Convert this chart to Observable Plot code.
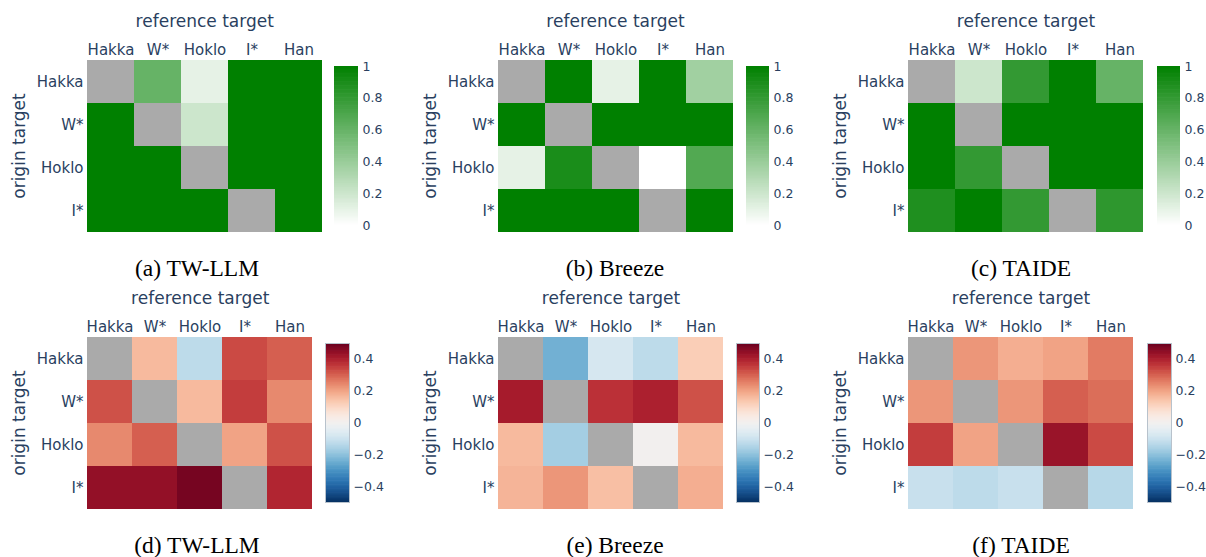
<!DOCTYPE html>
<html>
<head>
<meta charset="utf-8">
<script src="https://cdn.jsdelivr.net/npm/d3@7"></script>
<script src="https://cdn.jsdelivr.net/npm/@observablehq/plot@0.6"></script>
<style>
  html, body { margin: 0; padding: 0; background: #fff; }
  #root { position: relative; width: 1206px; height: 557px; overflow: hidden; }
  #root svg { position: absolute; overflow: visible; background: transparent; }
  .cap { position: absolute; font-family: "Liberation Serif", "Times New Roman", serif; font-size: 23.5px; color: #000; white-space: nowrap; transform: translate(-50%, -50%); }
  svg.hm [aria-label$="axis label"], svg.hm [aria-label$="axis label"] text { font-size: 17px !important; }
  svg.hm [aria-label$="tick label"], svg.hm [aria-label$="tick label"] text { font-size: 15px !important; }
  svg.cb [aria-label$="tick label"], svg.cb [aria-label$="tick label"] text { font-size: 12.5px !important; }
</style>
</head>
<body>
<div id="root"></div>
<script>
// ---- data ----
const cols = ["Hakka", "W*", "Hoklo", "I*", "Han"];
const rows = ["Hakka", "W*", "Hoklo", "I*"];

// agreement (0..1), rows = origin target, cols = reference target; null = diagonal
const twllmAgree = [
  [null, 0.6, 0.1, 1, 1],
  [1, null, 0.2, 1, 1],
  [1, 1, null, 1, 1],
  [1, 1, 1, null, 1]
];
const breezeAgree = [
  [null, 1, 0.1, 1, 0.37],
  [1, null, 1, 1, 1],
  [0.1, 0.9, null, 0, 0.68],
  [1, 1, 1, null, 1]
];
const taideAgree = [
  [null, 0.2, 0.8, 1, 0.6],
  [1, null, 1, 1, 1],
  [1, 0.8, null, 1, 1],
  [0.88, 1, 0.8, null, 0.82]
];
// difference (-0.5..0.5)
const twllmDiff = [
  [null, 0.16, -0.13, 0.33, 0.3],
  [0.32, null, 0.16, 0.35, 0.24],
  [0.24, 0.3, null, 0.2, 0.32],
  [0.44, 0.44, 0.48, null, 0.39]
];
const breezeDiff = [
  [null, -0.24, -0.08, -0.13, 0.12],
  [0.41, null, 0.37, 0.4, 0.32],
  [0.16, -0.17, null, 0.0, 0.16],
  [0.17, 0.22, 0.15, null, 0.18]
];
const taideDiff = [
  [null, 0.22, 0.18, 0.2, 0.26],
  [0.22, null, 0.22, 0.3, 0.28],
  [0.35, 0.2, null, 0.43, 0.33],
  [-0.11, -0.13, -0.11, null, -0.14]
];
const captions = ["(a) TW-LLM", "(b) Breeze", "(c) TAIDE", "(d) TW-LLM", "(e) Breeze", "(f) TAIDE"];
const greenTicks = [0, 0.2, 0.4, 0.6, 0.8, 1];
const diffTicks = [-0.4, -0.2, 0, 0.2, 0.4];

// ---- scales ----
const greenColor = {type: "linear", domain: [0, 1], range: ["#ffffff", "#008000"], interpolate: "rgb"};
const diffColor = {type: "linear", domain: [-0.5, 0.5], scheme: "RdBu", reverse: true};

const root = document.getElementById("root");
const FONT = '"DejaVu Sans", "Open Sans", sans-serif';
const INK = "#2a3f5f";
const fmt = d3.format("~g");

function toCells(m) {
  const out = [];
  rows.forEach((r, i) => cols.forEach((c, j) => out.push({row: r, col: c, v: m[i][j]})));
  return out;
}

function heatmap(matrix, color, left, top, w, h) {
  const ML = 86, MT = 58;
  const cells = toCells(matrix);
  const svg = Plot.plot({
    className: "hm",
    width: ML + w + 2, height: MT + h + 2,
    marginLeft: ML, marginTop: MT, marginRight: 2, marginBottom: 2,
    style: {fontFamily: FONT, fontSize: "15px", color: INK, background: "transparent"},
    x: {domain: cols, padding: 0, axis: "top", tickSize: 0, tickPadding: 4,
        label: "reference target", labelAnchor: "center", labelOffset: 44},
    y: {domain: rows, padding: 0, tickSize: 0, tickPadding: 3,
        label: "origin target", labelAnchor: "center", labelOffset: 74},
    color,
    marks: [
      Plot.cell(cells.filter(d => d.v == null), {x: "col", y: "row", fill: "#aaaaaa", inset: 0}),
      Plot.cell(cells.filter(d => d.v != null), {x: "col", y: "row", fill: "v", inset: 0})
    ]
  });
  svg.classList.add("hm");
  svg.style.left = (left - ML) + "px";
  svg.style.top = (top - MT) + "px";
  root.appendChild(svg);
}

function colorbar(color, domain, ticks, left, top, w, h, outline) {
  const MT = 10, MB = 10, MR = 40;
  const n = 120;
  const step = (domain[1] - domain[0]) / n;
  const slices = d3.range(n).map(i => [domain[0] + i * step, domain[0] + (i + 1) * step]);
  const svg = Plot.plot({
    className: "cb",
    width: w + MR, height: h + MT + MB,
    marginLeft: 0, marginRight: MR, marginTop: MT, marginBottom: MB,
    style: {fontFamily: FONT, fontSize: "12.5px", color: INK, background: "transparent"},
    x: {domain: [0, 1], axis: null},
    y: {domain, axis: "right", ticks, tickFormat: fmt, tickSize: 0, tickPadding: 4, label: null},
    color,
    marks: [
      Plot.rect(slices, {x1: 0, x2: 1, y1: d => d[0], y2: d => Math.min(domain[1], d[1] + step * 0.5),
        fill: d => (d[0] + d[1]) / 2, inset: 0}),
      outline ? Plot.frame({stroke: "#b8c2cc", strokeWidth: 1}) : null
    ]
  });
  svg.classList.add("cb");
  svg.style.left = left + "px";
  svg.style.top = (top - MT) + "px";
  root.appendChild(svg);
}

// top row
heatmap(twllmAgree, greenColor, 85.5, 58, 236.5, 175);
heatmap(breezeAgree, greenColor, 497, 58, 236, 175);
heatmap(taideAgree, greenColor, 907, 58, 237, 175);
colorbar(greenColor, [0, 1], greenTicks, 334, 66, 24, 159, false);
colorbar(greenColor, [0, 1], greenTicks, 746, 66, 23, 159, false);
colorbar(greenColor, [0, 1], greenTicks, 1157, 66, 23, 159, false);
// bottom row
heatmap(twllmDiff, diffColor, 85.5, 335, 227.5, 175);
heatmap(breezeDiff, diffColor, 497, 335, 227, 175);
heatmap(taideDiff, diffColor, 907, 335, 227, 175);
colorbar(diffColor, [-0.5, 0.5], diffTicks, 325, 343, 24, 159, true);
colorbar(diffColor, [-0.5, 0.5], diffTicks, 736, 343, 23, 159, true);
colorbar(diffColor, [-0.5, 0.5], diffTicks, 1147, 343, 24, 159, true);

// captions
const capPos = [[197, 268], [615, 268], [1021, 268], [197, 545], [615, 545], [1021, 545]];
captions.forEach((t, i) => {
  const d = document.createElement("div");
  d.className = "cap";
  d.textContent = t;
  d.style.left = capPos[i][0] + "px";
  d.style.top = capPos[i][1] + "px";
  root.appendChild(d);
});
</script>
</body>
</html>
